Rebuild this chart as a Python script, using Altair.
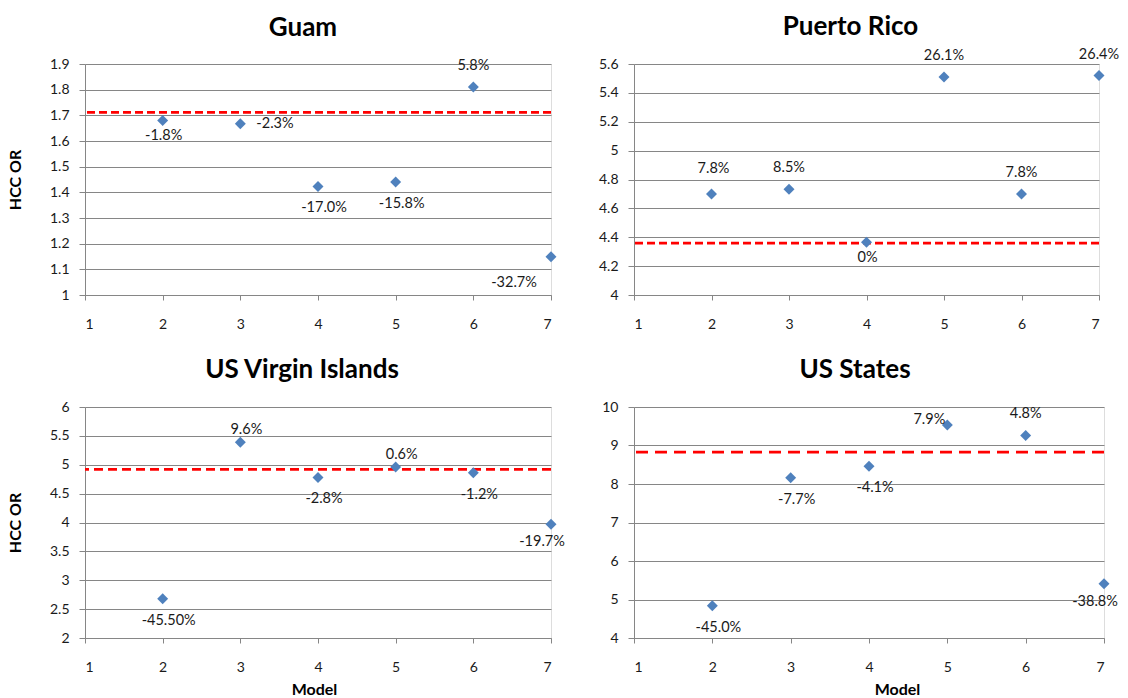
import altair as alt
import pandas as pd

# ---------------- data ----------------
models = [2, 3, 4, 5, 6, 7]
x_ticks = [1, 2, 3, 4, 5, 6, 7]

guam_or = [1.68, 1.667, 1.423, 1.44, 1.81, 1.149]
guam_lbl = ["-1.8%", "-2.3%", "-17.0%", "-15.8%", "5.8%", "-32.7%"]
guam_pos = ["below-near", "right", "below", "below", "above", "below-left"]
guam_ref = 1.712
guam_ticks = [1, 1.1, 1.2, 1.3, 1.4, 1.5, 1.6, 1.7, 1.8, 1.9]

pr_or = [4.70, 4.733, 4.366, 5.51, 4.70, 5.52]
pr_lbl = ["7.8%", "8.5%", "0%", "26.1%", "7.8%", "26.4%"]
pr_pos = ["above-far", "above", "below-near", "above", "above", "above"]
pr_ref = 4.36
pr_ticks = [4, 4.2, 4.4, 4.6, 4.8, 5, 5.2, 5.4, 5.6]

vi_or = [2.68, 5.39, 4.78, 4.96, 4.86, 3.97]
vi_lbl = ["-45.50%", "9.6%", "-2.8%", "0.6%", "-1.2%", "-19.7%"]
vi_pos = ["below", "above-near", "below", "above-near", "below", "below-left-near"]
vi_ref = 4.92
vi_ticks = [2, 2.5, 3, 3.5, 4, 4.5, 5, 5.5, 6]

us_or = [4.84, 8.16, 8.46, 9.53, 9.26, 5.41]
us_lbl = ["-45.0%", "-7.7%", "-4.1%", "7.9%", "4.8%", "-38.8%"]
us_pos = ["below", "below", "below", "above-left", "above", "below-left-near"]
us_ref = 8.83
us_ticks = [4, 5, 6, 7, 8, 9, 10]

# ---------------- style ----------------
FONT = "Lato"
GRID = "#868686"
BLUE = "#4F81BD"
TXT = "#1a1a1a"
PLOT_H = 231

OFFSETS = {
    "above": dict(dx=0, dy=-21, align="center"),
    "above-far": dict(dx=2, dy=-25, align="center"),
    "above-near": dict(dx=6, dy=-12, align="center"),
    "above-left": dict(dx=-18, dy=-5, align="center"),
    "below": dict(dx=6, dy=22, align="center"),
    "below-near": dict(dx=1, dy=16, align="center"),
    "below-left-near": dict(dx=-9, dy=18, align="center"),
    "below-left": dict(dx=-37, dy=26, align="center"),
    "right": dict(dx=16, dy=0, align="left"),
}


def panel(name, ors, labels, pos, ref, ticks, left, bottom, width,
          title_dx, title_offset, model_x, dash):
    df = pd.DataFrame({"Model": models, "OR": ors, "Label": labels, "Pos": pos})
    ref_df = pd.DataFrame({"OR": [ref]})

    x_axis_kw = dict(
        values=x_ticks, grid=False, format="d",
        domainColor=GRID, tickColor=GRID, tickSize=5,
        labelFont=FONT, labelFontSize=14, labelColor=TXT,
        labelBaseline="alphabetic", labelPadding=28,
    )
    x_scale = alt.Scale(domain=[1, 7], nice=False, zero=False)
    if bottom:
        x_axis_kw.update(titleFont=FONT, titleFontSize=16, titleFontWeight="bold",
                         titleColor="#000000", titleX=model_x, titleY=56,
                         titleBaseline="alphabetic", titleAlign="center")
        x = alt.X("Model:Q", title="Model", scale=x_scale, axis=alt.Axis(**x_axis_kw))
    else:
        x = alt.X("Model:Q", title=None, scale=x_scale, axis=alt.Axis(**x_axis_kw))

    y_axis_kw = dict(
        values=ticks, format="~r", grid=True, gridColor=GRID, gridWidth=1,
        domainColor=GRID, tickColor=GRID, tickSize=6,
        labelFont=FONT, labelFontSize=14, labelColor=TXT, labelPadding=10,
    )
    y_scale = alt.Scale(domain=[ticks[0], ticks[-1]], nice=False, zero=False)
    if left:
        y_axis_kw.update(titleFont=FONT, titleFontSize=16, titleFontWeight="bold",
                         titleColor="#000000", titleX=-70, titleY=PLOT_H / 2,
                         titleBaseline="middle", titleAngle=270, titleAlign="center")
        y = alt.Y("OR:Q", title="HCC OR", scale=y_scale, axis=alt.Axis(**y_axis_kw))
    else:
        y = alt.Y("OR:Q", title=None, scale=y_scale, axis=alt.Axis(**y_axis_kw))

    rule = alt.Chart(ref_df).mark_rule(
        color="#FF0000", strokeDash=dash, strokeWidth=2.75
    ).encode(y=y)

    pts = alt.Chart(df).mark_point(
        shape="diamond", filled=True, size=120, color=BLUE, opacity=1
    ).encode(x=x, y=y)

    layers = [rule, pts]
    for key in sorted(set(pos)):
        o = OFFSETS[key]
        layers.append(
            alt.Chart(df).transform_filter(alt.datum.Pos == key).mark_text(
                font=FONT, fontSize=14.5, color=TXT, baseline="middle",
                align=o["align"], dx=o["dx"], dy=o["dy"]
            ).encode(x=x, y=y, text="Label:N")
        )

    return alt.layer(*layers).properties(
        width=width, height=PLOT_H,
        title=alt.TitleParams(name, font=FONT, fontSize=26, fontWeight="bold",
                              color="#000000", anchor="middle", frame="group",
                              dx=title_dx, offset=title_offset, baseline="alphabetic"),
    )


chart = alt.concat(
    panel("Guam", guam_or, guam_lbl, guam_pos, guam_ref, guam_ticks,
          True, False, 466, -15, -5, 229, [8, 4]),
    panel("Puerto Rico", pr_or, pr_lbl, pr_pos, pr_ref, pr_ticks,
          False, False, 465, -16, -14.5, 263, [8, 4]),
    panel("US Virgin Islands", vi_or, vi_lbl, vi_pos, vi_ref, vi_ticks,
          True, True, 466, -16, -4, 229, [9, 5]),
    panel("US States", us_or, us_lbl, us_pos, us_ref, us_ticks,
          False, True, 470, -14, -4, 263, [12, 7]),
    columns=2,
    spacing={"row": 112, "column": 83},
    bounds="flush",
).configure_view(stroke=None).configure(background="white").properties(
    padding={"left": 6, "top": 13, "right": 0, "bottom": 0}
)

chart.save("out.html", embed_options={"renderer": "svg", "actions": False})
